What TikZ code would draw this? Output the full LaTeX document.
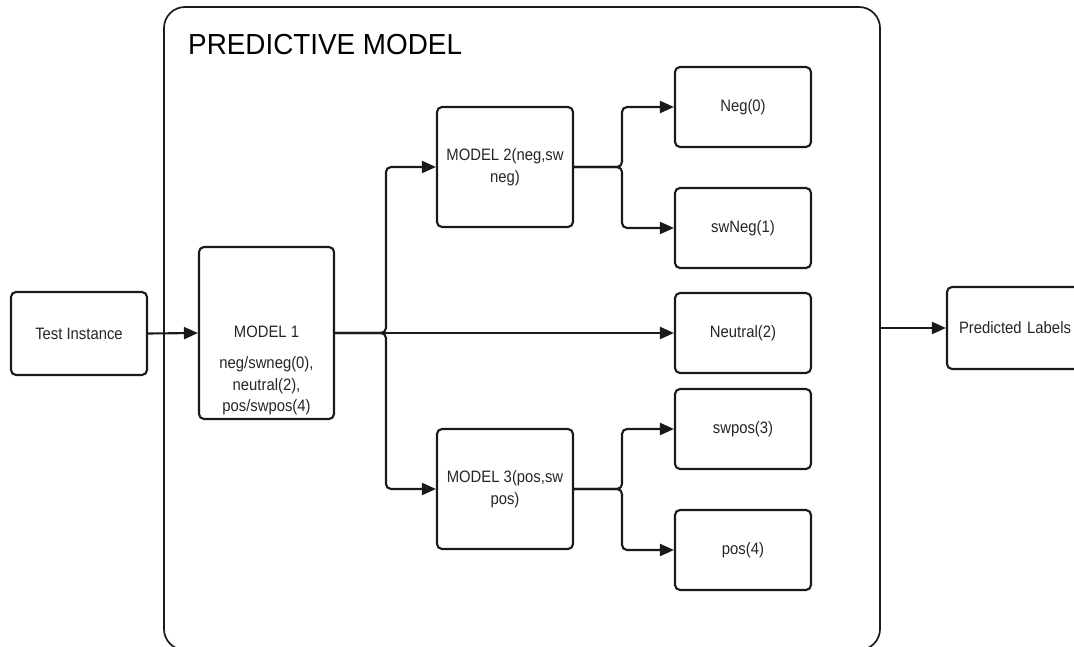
\documentclass[tikz,border=0pt]{standalone}
\usepackage{fontspec}
\setmainfont{Liberation Sans}
\newfontfamily\nodefont[FakeStretch=0.9]{Liberation Sans}
\newfontfamily\titlefont[FakeStretch=0.96]{Liberation Sans}
\usetikzlibrary{arrows.meta}
\definecolor{ink}{HTML}{1A1A1A}
\definecolor{txt}{HTML}{262626}
\begin{document}
\begin{tikzpicture}[x=1pt,y=-1pt,
  box/.style={draw=ink, line width=2.1pt, rounded corners=5pt, minimum width=136pt, minimum height=80pt, inner sep=0pt,
    text=txt, font=\nodefont\fontsize{16.5}{22}\selectfont, align=center},
  lbl/.style={inner sep=0pt, text=txt, font=\nodefont\fontsize{16.5}{21.5}\selectfont, align=center},
  conn/.style={draw=ink, line width=2.1pt, rounded corners=5pt, -{Triangle[length=14pt,width=12pt]}},
  container/.style={draw=ink, line width=1.7pt, rounded corners=21pt, minimum width=716pt, minimum height=643pt, inner sep=0pt}
]
\useasboundingbox (0,0) rectangle (1074,647);
\fill[white] (0,0) rectangle (1074,647);

% container
\node[container] (pm) at (522,328.5) {};
\node[anchor=base west, inner sep=0pt, text=black, font=\titlefont\fontsize{29}{32}\selectfont] (title) at (188,55) {PREDICTIVE MODEL};

% nodes
\node[box, minimum height=83pt] (test) at (79,333.5) {Test Instance};
\node[box, minimum width=135pt, minimum height=172pt] (m1) at (266.5,333) {};
\node[lbl] (m1t) at (266.5,332) {MODEL 1};
\node[lbl] (m1l) at (266.5,386) {neg/swneg(0),\\neutral(2),\\pos/swpos(4)};
\node[box, minimum height=120pt] (m2) at (505,167) {MODEL 2(neg,sw\\neg)};
\node[box, minimum height=120pt] (m3) at (505,489) {MODEL 3(pos,sw\\pos)};
\node[box] (neg) at (743,107) {Neg(0)};
\node[box] (swneg) at (743,228) {swNeg(1)};
\node[box] (neu) at (743,333) {Neutral(2)};
\node[box] (swpos) at (743,429) {swpos(3)};
\node[box] (pos) at (743,550) {pos(4)};
\node[box, minimum height=82pt, text width=136pt, align=left] (pl) at (1015,328) {\hspace*{12pt}Predicted Labels};

% bus points
\coordinate (b1) at (386,333);
\coordinate (b2) at (622,167);
\coordinate (b3) at (622,489);

% connectors
\draw[conn] (test.east) -- (m1.west);
\draw[conn] (m1.east) -- (neu.west);
\draw[conn] (m1.east) -- (b1) |- (m2.west);
\draw[conn] (m1.east) -- (b1) |- (m3.west);
\draw[conn] (m2.east) -- (b2) |- (neg.west);
\draw[conn] (m2.east) -- (b2) |- (swneg.west);
\draw[conn] (m3.east) -- (b3) |- (swpos.west);
\draw[conn] (m3.east) -- (b3) |- (pos.west);
\draw[conn] (pl.west -| pm.east) -- (pl.west);
\end{tikzpicture}
\end{document}
